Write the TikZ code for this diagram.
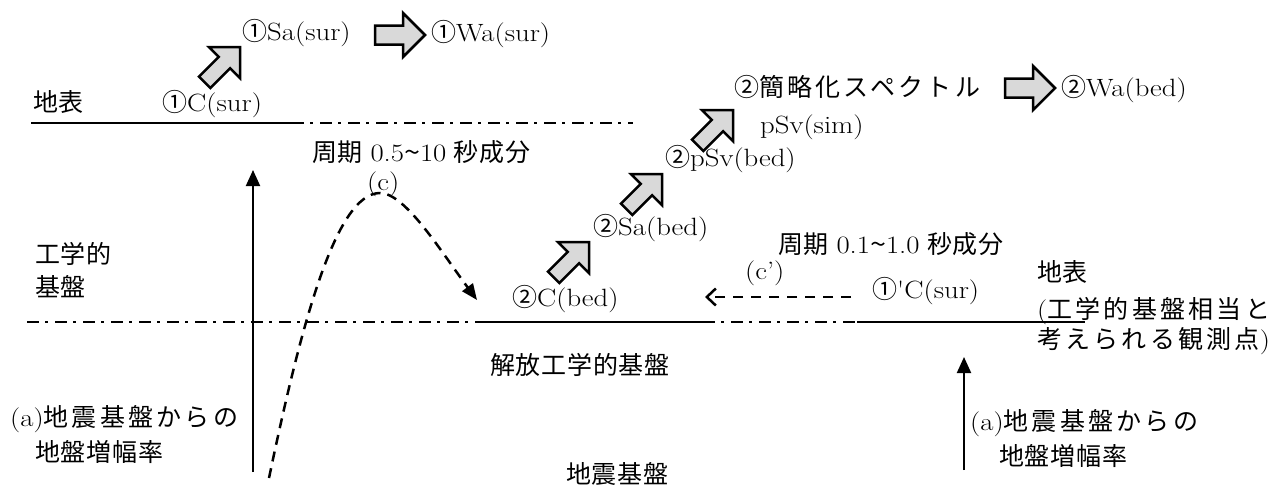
\documentclass[tikz,border=0pt]{standalone}
\usepackage{fontspec}
\usepackage{graphicx}
\usetikzlibrary{arrows.meta}
% Japanese text: normal and slightly tracked variants
\newfontfamily\jpfont{Noto Sans CJK JP}[LetterSpace=3]
\newfontfamily\jpwfont{Noto Sans CJK JP}[LetterSpace=13]
\newcommand\jp[1]{{\jpfont #1}}
\newcommand\jpw[1]{{\jpwfont #1}}
% Latin text, widened a little
\newcommand\la[1]{\scalebox{1.15}[1]{#1}}
\newcommand\wave{{\jpfont\char126}}
% Block arrow with its tip at #1, turned by #2 degrees, shaft half width #3
\newcommand\blockarrow[3]{%
  \path[barrow, shift={#1}, rotate=#2]
    (0,0) -- (-22,-22) -- (-22,-#3) -- (-50,-#3) -- (-50,#3) -- (-22,#3) -- (-22,22) -- cycle;}
\begin{document}
\begin{tikzpicture}[x=1pt,y=-1pt,
  txt/.style={anchor=base west, inner sep=0pt, font=\fontsize{25}{30}\selectfont},
  solidline/.style={line width=2.8pt},
  dashdot/.style={line width=2.5pt, dash pattern=on 12pt off 6pt on 3pt off 7pt},
  dashline/.style={line width=2.5pt, dash pattern=on 10pt off 7pt},
  barrow/.style={draw, fill=black!15, line width=2.5pt, line join=miter},
  uparrow/.style={line width=2pt, -{Triangle[length=16pt,width=14pt]}}]
\useasboundingbox (0,0) rectangle (1269,491);

% ground surface
\coordinate (s0) at (31,123);
\coordinate (s1) at (292,123);
\coordinate (s2) at (633,123);
\draw[solidline] (s0) -- (s1);
\draw[dashdot] (s1) -- (s2);

% engineering bedrock level
\coordinate (b0) at (27,322);
\coordinate (b1) at (477,322);
\coordinate (b2) at (703,322);
\coordinate (b3) at (857,322);
\coordinate (b4) at (1085,322);
\draw[dashdot] (b0) -- (b1);
\draw[solidline, line width=2.5pt] (b1) -- (b2);
\draw[dashdot] (b2) -- (b3);
\draw[solidline, line width=2.5pt] (b3) -- (b4);

% labels, upper left
\node[txt] (sasur) at (242,40) {\jp{①}\la{Sa(sur)}};
\node[txt] (wasur) at (431,41) {\jp{①}\la{Wa(sur)}};
\node[txt] (chihyo1) at (33,111) {\jp{地表}};
\node[txt] (csur) at (162,111) {\jp{①}\la{C(sur)}};
\node[txt] (period1) at (312,161) {\jp{周期} \la{0.5\wave10} \jp{秒成分}};
\node[txt] (clabel) at (367,190) {\la{(c)}};

% labels, upper right
\node[txt] (simple) at (734,96) {\jp{②}\jpw{簡略化スペクトル}};
\node[txt] (wabed) at (1061,96) {\jp{②}\la{Wa(bed)}};
\node[txt] (psvsim) at (760,133) {\la{pSv(sim)}};
\node[txt] (psvbed) at (665,166) {\jp{②}\la{pSv(bed)}};
\node[txt] (sabed) at (593,235) {\jp{②}\la{Sa(bed)}};
\node[txt] (period2) at (778,253) {\jp{周期} \la{0.1\wave1.0} \jp{秒成分}};
\node[txt] (cprime) at (745,279) {\la{(c')}};
\node[txt] (csur2) at (872,298) {\jp{①}\la{\textquotesingle C(sur)}};
\node[txt] (chihyo2) at (1037,281) {\jp{地表}};
\node[txt] (obs1) at (1037,318) {\la{(}\jpw{工学的基盤相当と}};
\node[txt] (obs2) at (1037,348) {\jpw{考えられる観測点}\la{)}};

% labels, middle and bottom
\node[txt] (kou) at (35,263) {\jp{工学的}};
\node[txt] (kiban) at (35,296) {\jp{基盤}};
\node[txt] (cbed) at (512,306) {\jp{②}\la{C(bed)}};
\node[txt] (open) at (490,374) {\jp{解放工学的基盤}};
\node[txt] (ampL1) at (10,426) {\la{(a)}\jpw{地震基盤からの}};
\node[txt] (ampL2) at (35,461) {\jp{地盤増幅率}};
\node[txt] (ampR1) at (970,430) {\la{(a)}\jpw{地震基盤からの}};
\node[txt] (ampR2) at (999,465) {\jp{地盤増幅率}};
\node[txt] (seismic) at (566,483) {\jp{地震基盤}};

% block arrows
\blockarrow{(240,47)}{45}{8}
\blockarrow{(425,35)}{0}{9.5}
\blockarrow{(589,242)}{45}{8}
\blockarrow{(662,174)}{45}{8}
\blockarrow{(733,110)}{45}{8}
\blockarrow{(1055,88)}{0}{9.5}

% amplification arrows
\coordinate (aL0) at (253,472);
\coordinate (aL1) at (253,170);
\draw[uparrow] (aL0) -- (aL1);
\coordinate (aR0) at (964,470);
\coordinate (aR1) at (964,357);
\draw[uparrow] (aR0) -- (aR1);

% long-period path (c)
\coordinate (cv0) at (269,478);
\coordinate (cvpeak) at (380,193);
\coordinate (cv1) at (477,300);
\draw[dashline, -{Triangle[length=16pt,width=13pt]}]
  (cv0) .. controls (300,330) and (335,193) .. (cvpeak)
        .. controls (405,193) and (440,250) .. (cv1);

% short-period path (c')
\coordinate (cp0) at (851,297);
\coordinate (cp1) at (705,297);
\draw[dashline, dash pattern=on 10pt off 8pt, -{Straight Barb[length=9pt,width=17pt]}] (cp0) -- (cp1);
\end{tikzpicture}
\end{document}
